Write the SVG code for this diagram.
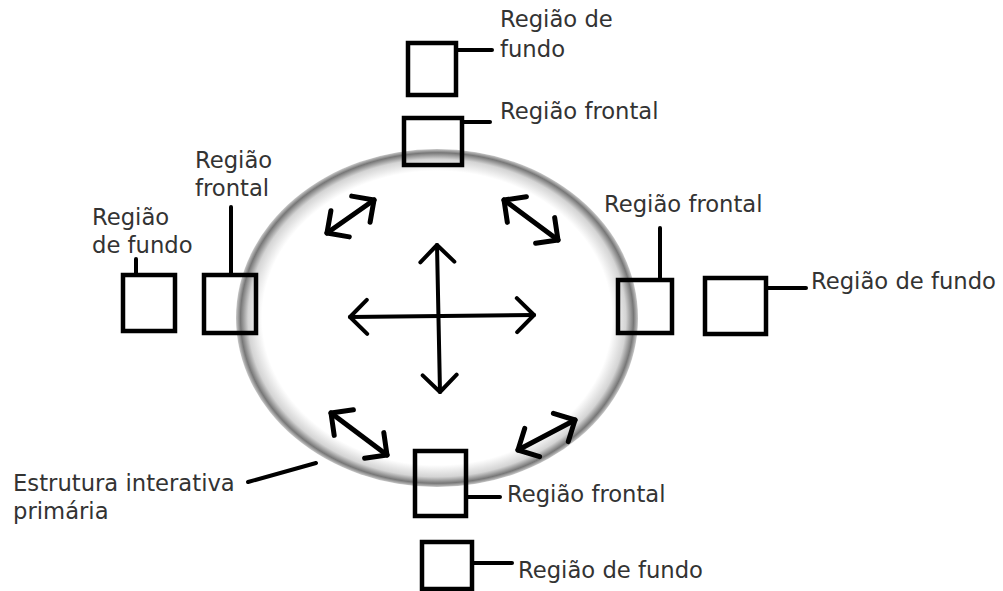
<svg xmlns="http://www.w3.org/2000/svg" width="1003" height="591" viewBox="0 0 1003 591">
<style>
text{font-family:"DejaVu Sans","Noto Sans",sans-serif;font-size:22.7px;fill:#333}
.box{fill:none;stroke:#000;stroke-width:4.5}
.ln{stroke:#000;stroke-width:4;stroke-linecap:round;fill:none}
.ar{stroke:#000;stroke-width:4;stroke-linecap:round;fill:none;marker-start:url(#hd);marker-end:url(#hd)}
.ard{stroke:#000;stroke-width:5;stroke-linecap:round;fill:none;marker-start:url(#hd2);marker-end:url(#hd2)}
</style>
<defs>
<radialGradient id="rim" cx="0.5" cy="0.5" r="0.5">
<stop offset="0" stop-color="#fff"/>
<stop offset="0.87" stop-color="#fff"/>
<stop offset="0.94" stop-color="#d4d4d4"/>
<stop offset="0.978" stop-color="#777"/>
<stop offset="1" stop-color="#c8c8c8"/>
</radialGradient>
<marker id="hd" viewBox="-20 -20 40 40" markerWidth="40" markerHeight="40" refX="0" refY="0" orient="auto-start-reverse" markerUnits="userSpaceOnUse">
<path d="M-17,-17 L0,0 L-17,17" fill="none" stroke="#000" stroke-width="4" stroke-linecap="round" stroke-linejoin="round"/>
</marker>
<marker id="hd2" viewBox="-20 -20 40 40" markerWidth="40" markerHeight="40" refX="0" refY="0" orient="auto-start-reverse" markerUnits="userSpaceOnUse">
<path d="M-16,-16 L0,0 L-16,16" fill="none" stroke="#000" stroke-width="5" stroke-linecap="round" stroke-linejoin="round"/>
</marker>
</defs>
<rect width="1003" height="591" fill="#fff"/>
<g id="primary">
<ellipse cx="437" cy="318" rx="201" ry="169" fill="url(#rim)"/>
</g>
<g id="connectors">
<line class="ar" x1="350" y1="317" x2="534" y2="315"/>
<line class="ar" x1="437" y1="245" x2="440" y2="392"/>
<line class="ard" x1="327" y1="233" x2="374" y2="200"/>
<line class="ard" x1="504" y1="200" x2="558" y2="240"/>
<line class="ard" x1="331" y1="413" x2="387" y2="455"/>
<line class="ard" x1="518" y1="450" x2="575" y2="420"/>
<line class="ln" x1="456" y1="50" x2="492" y2="50"/>
<line class="ln" x1="462" y1="122" x2="490" y2="122"/>
<line class="ln" x1="231" y1="207" x2="231" y2="275"/>
<line class="ln" x1="136" y1="259" x2="136" y2="275"/>
<line class="ln" x1="660" y1="228" x2="660" y2="280"/>
<line class="ln" x1="766" y1="288" x2="806" y2="288"/>
<line class="ln" x1="466" y1="497" x2="500" y2="497"/>
<line class="ln" x1="472" y1="563" x2="512" y2="563"/>
<line class="ln" x1="248" y1="482" x2="316" y2="463"/>
</g>
<g id="top-fundo">
<rect class="box" x="408" y="43" width="48" height="52"/>
<text x="500" y="27">Região de</text>
<text x="500" y="57">fundo</text>
</g>
<g id="top-frontal">
<rect class="box" x="404" y="118" width="58" height="47"/>
<text x="500" y="119">Região frontal</text>
</g>
<g id="left-frontal">
<rect class="box" x="204" y="275" width="52" height="58"/>
<text x="195" y="168">Região</text>
<text x="195" y="196">frontal</text>
</g>
<g id="left-fundo">
<rect class="box" x="123" y="275" width="52" height="56"/>
<text x="92" y="225">Região</text>
<text x="92" y="253">de fundo</text>
</g>
<g id="right-frontal">
<rect class="box" x="618" y="280" width="54" height="53"/>
<text x="604" y="212">Região frontal</text>
</g>
<g id="right-fundo">
<rect class="box" x="705" y="278" width="61" height="56"/>
<text x="811" y="289">Região de fundo</text>
</g>
<g id="bottom-frontal">
<rect class="box" x="415" y="451" width="51" height="65"/>
<text x="507" y="502">Região frontal</text>
</g>
<g id="bottom-fundo">
<rect class="box" x="422" y="542" width="50" height="47"/>
<text x="518" y="578">Região de fundo</text>
</g>
<g id="label-primary">
<text x="13" y="491">Estrutura interativa</text>
<text x="13" y="519">primária</text>
</g>
</svg>
